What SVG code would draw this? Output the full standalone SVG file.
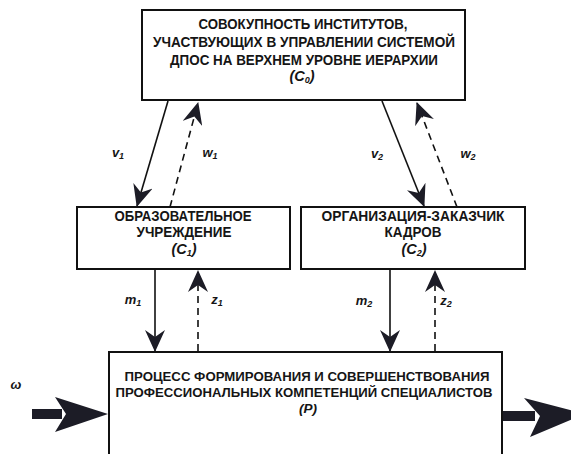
<svg xmlns="http://www.w3.org/2000/svg" width="571" height="454" viewBox="0 0 571 454">
<style>
.box{fill:#fff;stroke:#111;stroke-width:2}
.t{font-family:"Liberation Sans",Arial,sans-serif;font-weight:bold;font-size:14.5px;fill:#151515;text-anchor:middle}
.tp{font-size:13.5px}
.i{font-style:italic}
.lbl{font-family:"Liberation Sans",Arial,sans-serif;font-weight:bold;font-style:italic;font-size:13px;fill:#151515;text-anchor:middle}
.sub{font-size:9px}
.solid{stroke:#111;stroke-width:1.6;fill:none;marker-end:url(#ah)}
.dash{stroke:#111;stroke-width:1.6;fill:none;stroke-dasharray:7,5;marker-end:url(#ah)}
.big{fill:#1c1c26}
</style>
<defs>
<marker id="ah" markerUnits="userSpaceOnUse" markerWidth="22" markerHeight="20" viewBox="0 0 22 20" refX="21" refY="10" orient="auto">
<path d="M0,0 L22,10 L0,20 L7,10 z" fill="#1c1c26"/>
</marker>
</defs>
<rect width="571" height="454" fill="#fff"/>

<g id="C0">
<rect class="box" x="142" y="10" width="323" height="90"/>
<text class="t" x="303" y="29" textLength="209" lengthAdjust="spacingAndGlyphs">СОВОКУПНОСТЬ ИНСТИТУТОВ,</text>
<text class="t" x="304" y="47" textLength="302" lengthAdjust="spacingAndGlyphs">УЧАСТВУЮЩИХ В УПРАВЛЕНИИ СИСТЕМОЙ</text>
<text class="t" x="304" y="65" textLength="268" lengthAdjust="spacingAndGlyphs">ДПОС НА ВЕРХНЕМ УРОВНЕ ИЕРАРХИИ</text>
<text class="t i" x="302" y="81">(C<tspan class="sub" dy="2">0</tspan><tspan dy="-2">)</tspan></text>
</g>

<g id="C1">
<rect class="box" x="77" y="207" width="213" height="62"/>
<text class="t" x="183" y="221" textLength="137" lengthAdjust="spacingAndGlyphs">ОБРАЗОВАТЕЛЬНОЕ</text>
<text class="t" x="184" y="237" textLength="95" lengthAdjust="spacingAndGlyphs">УЧРЕЖДЕНИЕ</text>
<text class="t i" x="184" y="254">(C<tspan class="sub" dy="2">1</tspan><tspan dy="-2">)</tspan></text>
</g>

<g id="C2">
<rect class="box" x="301" y="207" width="224" height="62"/>
<text class="t" x="413" y="221" textLength="183" lengthAdjust="spacingAndGlyphs">ОРГАНИЗАЦИЯ-ЗАКАЗЧИК</text>
<text class="t" x="413" y="237" textLength="57" lengthAdjust="spacingAndGlyphs">КАДРОВ</text>
<text class="t i" x="414" y="254">(C<tspan class="sub" dy="2">2</tspan><tspan dy="-2">)</tspan></text>
</g>

<g id="P">
<rect class="box" x="109" y="352" width="393" height="110"/>
<text class="t tp" x="307" y="381" textLength="365" lengthAdjust="spacingAndGlyphs">ПРОЦЕСС ФОРМИРОВАНИЯ И СОВЕРШЕНСТВОВАНИЯ</text>
<text class="t tp" x="304" y="397" textLength="377" lengthAdjust="spacingAndGlyphs">ПРОФЕССИОНАЛЬНЫХ КОМПЕТЕНЦИЙ СПЕЦИАЛИСТОВ</text>
<text class="t tp i" x="308" y="413">(P)</text>
</g>

<g id="connectors">
<line class="solid" x1="168" y1="101" x2="137" y2="206"/>
<line class="dash" x1="170" y1="207" x2="198" y2="103"/>
<line class="solid" x1="382" y1="101" x2="424" y2="206"/>
<line class="dash" x1="457" y1="207" x2="417" y2="103"/>
<line class="solid" x1="155" y1="269" x2="155" y2="351"/>
<line class="dash" x1="198" y1="351" x2="198" y2="271"/>
<line class="solid" x1="390" y1="269" x2="390" y2="351"/>
<line class="dash" x1="435" y1="351" x2="435" y2="271"/>
<rect class="big" x="32" y="409" width="30" height="10"/>
<polygon class="big" points="55,397 108,414 55,432 66,414"/>
<rect class="big" x="503" y="411" width="32" height="10"/>
<polygon class="big" points="524,398 585,414 530,437 540,416"/>
<text class="lbl" x="118" y="157">v<tspan class="sub" dy="2">1</tspan></text>
<text class="lbl" x="210" y="157">w<tspan class="sub" dy="2">1</tspan></text>
<text class="lbl" x="377" y="158">v<tspan class="sub" dy="2">2</tspan></text>
<text class="lbl" x="468" y="158">w<tspan class="sub" dy="2">2</tspan></text>
<text class="lbl" x="133" y="304">m<tspan class="sub" dy="2">1</tspan></text>
<text class="lbl" x="217" y="304">z<tspan class="sub" dy="2">1</tspan></text>
<text class="lbl" x="364" y="305">m<tspan class="sub" dy="2">2</tspan></text>
<text class="lbl" x="446" y="305">z<tspan class="sub" dy="2">2</tspan></text>
<text class="lbl" x="16" y="389">ω</text>
</g>
</svg>
